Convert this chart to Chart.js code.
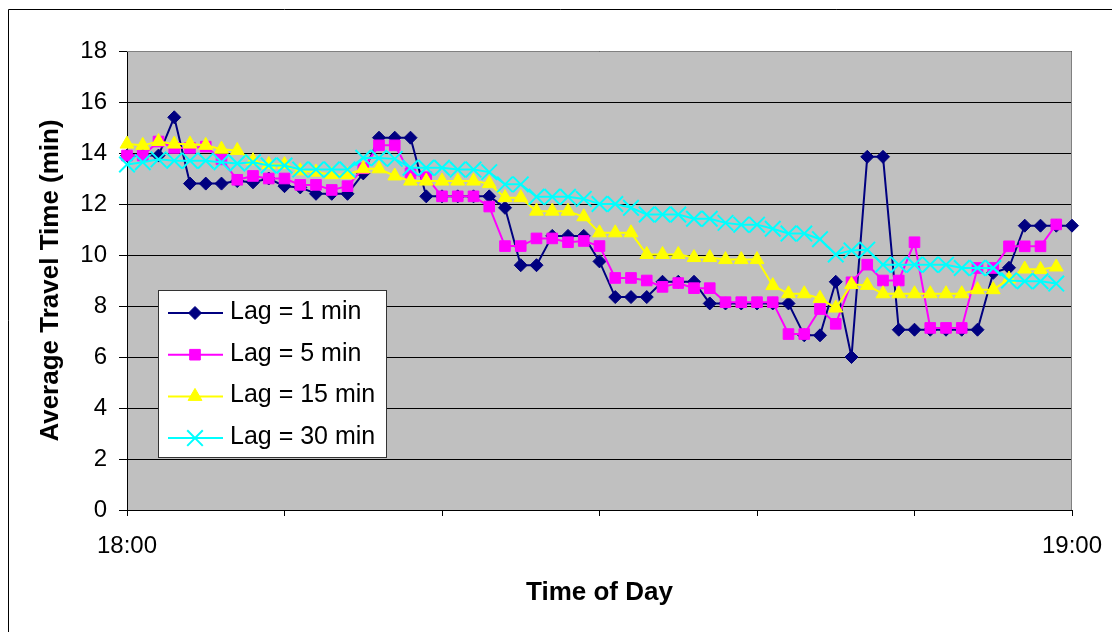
<!DOCTYPE html>
<html>
<head>
<meta charset="utf-8">
<title>Average Travel Time by Lag</title>
<script src="https://cdn.jsdelivr.net/npm/chart.js@4.4.1/dist/chart.umd.min.js"></script>
<style>
  html, body { margin: 0; padding: 0; background: #ffffff; }
  canvas { display: block; }
</style>
</head>
<body>
<canvas id="travel-chart" width="1112" height="632"></canvas>
<script>
// minutes after 18:00, one sample per minute
const minutes = [
  0, 1, 2, 3, 4, 5, 6, 7, 8, 9,
  10, 11, 12, 13, 14, 15, 16, 17, 18, 19,
  20, 21, 22, 23, 24, 25, 26, 27, 28, 29,
  30, 31, 32, 33, 34, 35, 36, 37, 38, 39,
  40, 41, 42, 43, 44, 45, 46, 47, 48, 49,
  50, 51, 52, 53, 54, 55, 56, 57, 58, 59,
  60
];

// average travel time (min)
const lag1 = [
  13.9, 13.9, 13.9, 15.4, 12.8, 12.8, 12.8, 12.9, 12.85, 13.0,
  12.7, 12.65, 12.4, 12.4, 12.4, 13.2, 14.6, 14.6, 14.6, 12.3,
  12.3, 12.3, 12.3, 12.3, 11.85, 9.6, 9.6, 10.75, 10.75, 10.75,
  9.75, 8.35, 8.35, 8.35, 8.95, 8.95, 8.95, 8.1, 8.1, 8.1,
  8.1, 8.1, 8.1, 6.85, 6.85, 8.95, 6.0, 13.85, 13.85, 7.07,
  7.07, 7.07, 7.07, 7.07, 7.07, 9.3, 9.5, 11.15, 11.15, 11.15,
  11.15
];
const lag5 = [
  13.9, 13.9, 14.45, 14.2, 14.2, 14.25, 13.75, 12.95, 13.1, 13.0,
  13.0, 12.75, 12.75, 12.55, 12.7, 13.4, 14.3, 14.3, 13.2, 13.05,
  12.3, 12.3, 12.3, 11.9, 10.35, 10.35, 10.65, 10.65, 10.5, 10.55,
  10.35, 9.1, 9.1, 9.0, 8.75, 8.9, 8.7, 8.7, 8.15, 8.15,
  8.15, 8.15, 6.9, 6.9, 7.88, 7.3, 8.93, 9.62, 9.0, 9.0,
  10.5, 7.14, 7.14, 7.14, 9.49, 9.49, 10.34, 10.34, 10.34, 11.2
];
const lag15 = [
  14.35, 14.3, 14.45, 14.35, 14.35, 14.3, 14.15, 14.1, 13.7, 13.55,
  13.55, 13.3, 13.25, 13.15, 13.15, 13.38, 13.38, 13.1, 12.9, 12.9,
  12.9, 12.9, 12.9, 12.8, 12.25, 12.25, 11.72, 11.72, 11.72, 11.5,
  10.87, 10.87, 10.87, 10.02, 10.02, 10.02, 9.9, 9.9, 9.82, 9.82,
  9.82, 8.8, 8.48, 8.48, 8.3, 7.92, 8.84, 8.81, 8.48, 8.48,
  8.48, 8.48, 8.48, 8.48, 8.64, 8.64, 9.06, 9.45, 9.43, 9.53
];
const lag30 = [
  13.55, 13.64, 13.75, 13.7, 13.7, 13.7, 13.64, 13.59, 13.64, 13.51,
  13.51, 13.35, 13.35, 13.35, 13.35, 13.81, 13.8, 13.77, 13.42, 13.42,
  13.42, 13.35, 13.35, 13.25, 12.77, 12.77, 12.28, 12.28, 12.28, 12.2,
  12.0, 12.0, 11.85, 11.59, 11.59, 11.59, 11.42, 11.42, 11.26, 11.19,
  11.19, 11.03, 10.84, 10.84, 10.62, 10.02, 10.18, 10.21, 9.62, 9.62,
  9.62, 9.62, 9.62, 9.49, 9.49, 9.49, 9.0, 8.97, 8.97, 8.88
];

const seriesNames = ["Lag = 1 min", "Lag = 5 min", "Lag = 15 min", "Lag = 30 min"];
const xTickValues = [0, 60];
const xTickText = ["18:00", "19:00"];

// look of each series: colour, marker, marker size
const seriesStyles = [
  { color: "#000080", marker: "rectRot",  radius: 6.5, border: 1 },
  { color: "#ff00ff", marker: "rect",     radius: 7.5, border: 1 },
  { color: "#ffff00", marker: "triangle", radius: 8,   border: 1 },
  { color: "#00ffff", marker: "crossRot", radius: 11,  border: 2 }
];

const FONT = "Arial, 'Liberation Sans', sans-serif";
Chart.defaults.font.family = FONT;
Chart.defaults.color = "#000000";

// outer frame, grey plot area and its grey top/right edge
const plotFrame = {
  id: "plotFrame",
  beforeDraw(chart) {
    const { ctx, chartArea: a } = chart;
    ctx.save();
    ctx.fillStyle = "#c0c0c0";
    ctx.fillRect(a.left, a.top, a.right - a.left, a.bottom - a.top);
    ctx.strokeStyle = "#000000";
    ctx.lineWidth = 1;
    ctx.beginPath();
    ctx.moveTo(8.5, chart.height);
    ctx.lineTo(8.5, 9.5);
    ctx.lineTo(chart.width, 9.5);
    ctx.stroke();
    ctx.restore();
  },
  beforeDatasetsDraw(chart) {
    const { ctx, chartArea: a } = chart;
    ctx.save();
    ctx.strokeStyle = "#808080";
    ctx.lineWidth = 1;
    ctx.beginPath();
    ctx.moveTo(a.left, a.top + 0.5);
    ctx.lineTo(a.right - 0.5, a.top + 0.5);
    ctx.lineTo(a.right - 0.5, a.bottom);
    ctx.stroke();
    ctx.restore();
  }
};

// boxed legend inside the plot, line with marker for each series
const legendBox = {
  id: "legendBox",
  afterDraw(chart) {
    const ctx = chart.ctx;
    const box = { x: 158.5, y: 290.5, w: 228, h: 167 };
    ctx.save();
    ctx.fillStyle = "#ffffff";
    ctx.fillRect(box.x, box.y, box.w, box.h);
    ctx.strokeStyle = "#333333";
    ctx.lineWidth = 1;
    ctx.strokeRect(box.x, box.y, box.w, box.h);

    chart.data.datasets.forEach((ds, i) => {
      const st = seriesStyles[i];
      const y = 313 + i * 41.7;
      ctx.strokeStyle = st.color;
      ctx.lineWidth = 2;
      ctx.beginPath();
      ctx.moveTo(168, y);
      ctx.lineTo(223, y);
      ctx.stroke();

      ctx.fillStyle = st.color;
      ctx.lineWidth = st.border;
      Chart.helpers.drawPoint(ctx, {
        pointStyle: st.marker, radius: st.radius, borderWidth: st.border, rotation: 0
      }, 195, y);

      ctx.fillStyle = "#000000";
      ctx.font = "25px " + FONT;
      ctx.textAlign = "left";
      ctx.textBaseline = "middle";
      ctx.fillText(ds.label, 230, y - 1);
    });
    ctx.restore();
  }
};

const seriesValues = [lag1, lag5, lag15, lag30];

new Chart(document.getElementById("travel-chart"), {
  type: "line",
  data: {
    labels: minutes,
    datasets: seriesValues.map((values, i) => ({
      label: seriesNames[i],
      data: values,
      borderColor: seriesStyles[i].color,
      backgroundColor: seriesStyles[i].color,
      borderWidth: 2,
      pointStyle: seriesStyles[i].marker,
      pointRadius: seriesStyles[i].radius,
      pointBorderWidth: seriesStyles[i].border,
      pointBackgroundColor: seriesStyles[i].color,
      pointBorderColor: seriesStyles[i].color,
      tension: 0,
      fill: false,
      clip: false,
      order: seriesValues.length - i
    }))
  },
  options: {
    responsive: false,
    devicePixelRatio: 1,
    animation: false,
    events: [],
    layout: { padding: { left: 9, right: 40, top: 51, bottom: 0 } },
    plugins: {
      legend: { display: false },
      tooltip: { enabled: false }
    },
    scales: {
      x: {
        type: "linear",
        min: 0,
        max: 60,
        afterFit: (scale) => { scale.height = 122; },
        afterBuildTicks: (scale) => {
          scale.ticks = [0, 10, 20, 30, 40, 50, 60].map(v => ({ value: v }));
        },
        ticks: {
          autoSkip: false,
          maxRotation: 0,
          padding: 9,
          font: { size: 24, lineHeight: 1.75 },
          color: "#000000",
          callback: (value) => {
            const k = xTickValues.indexOf(value);
            return k >= 0 ? xTickText[k] : "";
          }
        },
        grid: {
          drawOnChartArea: false,
          drawTicks: true,
          tickLength: 6,
          tickColor: "#000000"
        },
        border: { display: true, color: "#000000", width: 1 },
        title: {
          display: true,
          text: "Time of Day",
          font: { size: 26, weight: "bold" },
          color: "#000000",
          padding: { top: 0, bottom: 24 }
        }
      },
      y: {
        min: 0,
        max: 18,
        afterFit: (scale) => { scale.width = 118; },
        ticks: {
          stepSize: 2,
          padding: 12,
          font: { size: 24 },
          color: "#000000"
        },
        grid: {
          color: "#000000",
          lineWidth: 1,
          drawTicks: true,
          tickLength: 8,
          tickColor: "#000000"
        },
        border: { display: true, color: "#000000", width: 1 },
        title: {
          display: true,
          text: "Average Travel Time (min)",
          font: { size: 26, weight: "bold" },
          color: "#000000",
          padding: { top: 26, bottom: 0 }
        }
      }
    }
  },
  plugins: [plotFrame, legendBox]
});
</script>
</body>
</html>
